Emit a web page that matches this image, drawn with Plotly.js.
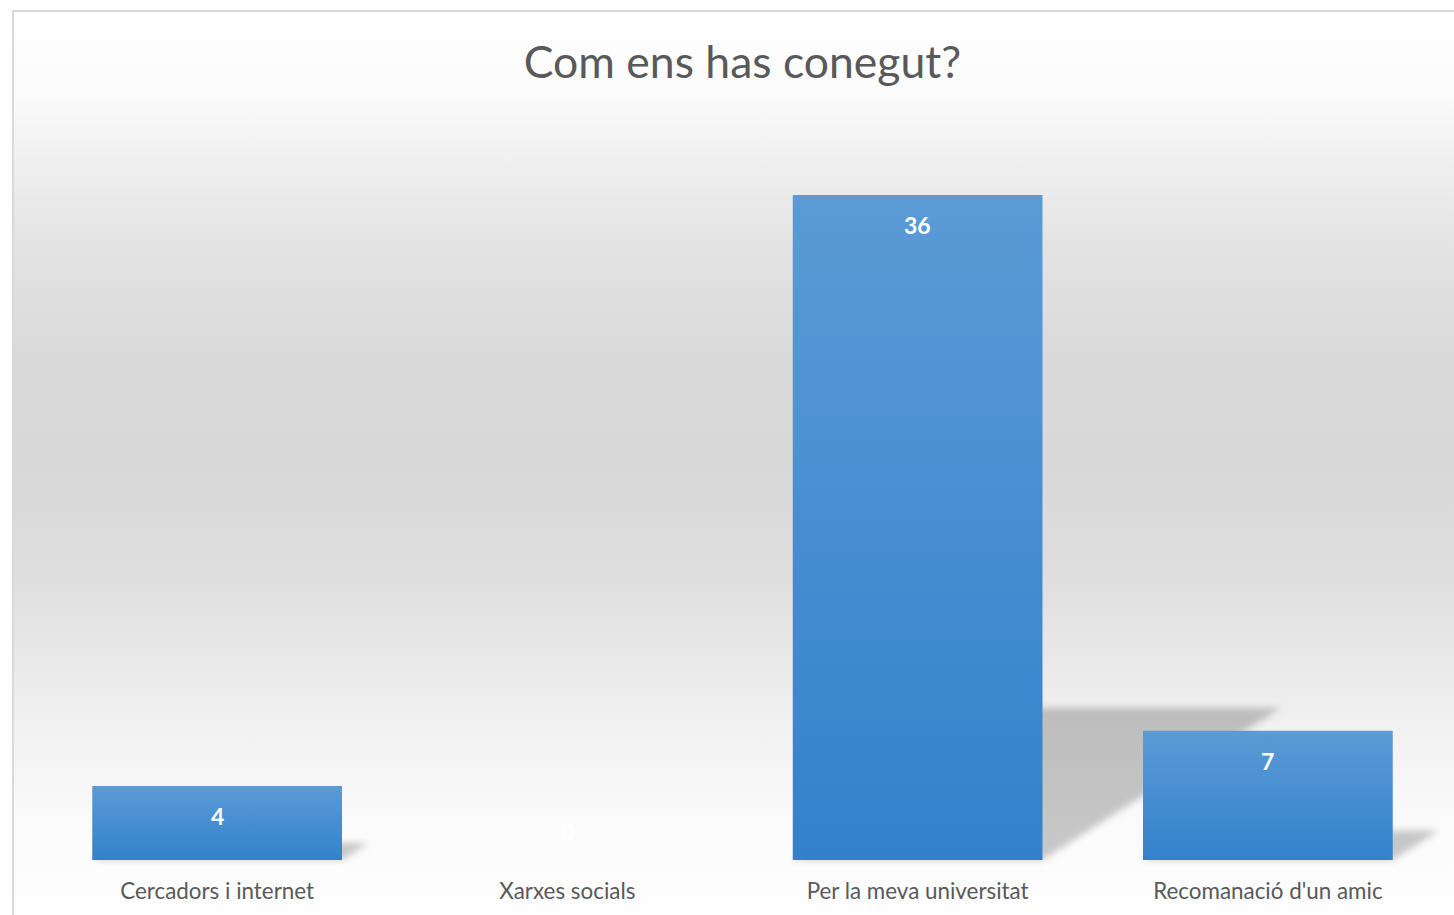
<!DOCTYPE html>
<html>
<head>
<meta charset="utf-8">
<script src="https://cdn.plot.ly/plotly-3.0.1.min.js"></script>
<style>
  html, body { margin:0; padding:0; background:#ffffff; width:1454px; height:915px; overflow:hidden; }
  #frame {
    position:absolute; left:12px; top:10px; width:1440px; height:903px;
    border-left:2px solid #d9d9d9; border-top:2px solid #d9d9d9;
    background: linear-gradient(to bottom, #ffffff 0%, #fbfbfb 9%, #f2f2f2 15%, #e4e4e4 25%, #dadada 38%, #d8d8d8 50%, #dedede 62%, #e9e9e9 72%, #f4f4f4 82%, #fbfbfb 90%, #fefefe 100%);
  }
  #chart { width:1440px; height:903px; }
</style>
</head>
<body>
<div id="frame"><div id="chart"></div></div>
<script>
const categories = ["Cercadors i internet", "Xarxes socials", "Per la meva universitat", "Recomanació d'un amic"];
const values = [4, 0, 36, 7];
const chartTitle = "Com ens has conegut?";

const idx = categories.map((c, i) => i);
const barWidth = 0.713;
const shadowH = 0.2286;   // shadow height as fraction of value
const shadowS = 0.0189;   // horizontal skew per unit of value (category units)

const shapes = values.map((v, i) => {
  if (v <= 0) return null;
  const x0 = i - barWidth / 2, x1 = i + barWidth / 2;
  const h = v * shadowH, s = v * shadowS;
  return {
    type: 'path', xref: 'x', yref: 'y', layer: 'below',
    path: `M ${x0},0 L ${x1},0 L ${x1 + s},${h} L ${x0 + s},${h} Z`,
    fillcolor: 'rgba(0,0,0,0.21)', line: { width: 0 }
  };
}).filter(Boolean);

const annotations = values.map((v, i) => ({
  x: i, y: v, xref: 'x', yref: 'y', text: '<b>' + String(v) + '</b>', showarrow: false,
  yshift: v > 0 ? -30 : 28,
  font: { family: 'Lato, "Open Sans", sans-serif', size: 23, color: '#ffffff' }
}));

const trace = {
  type: 'bar', x: idx, y: values, width: barWidth,
  marker: { color: '#4a8fd2', line: { width: 0 } },
  hoverinfo: 'skip'
};

const layout = {
  width: 1440, height: 903,
  paper_bgcolor: 'rgba(0,0,0,0)', plot_bgcolor: 'rgba(0,0,0,0)',
  margin: { l: 28, r: 11, t: 109, b: 55 },
  title: {
    text: chartTitle, x: 0.5, xanchor: 'center', xref: 'paper',
    y: 1 - 50 / 903, yref: 'container', yanchor: 'middle',
    font: { family: 'Lato, "Open Sans", sans-serif', size: 44.5, color: '#595959' }
  },
  xaxis: {
    type: 'linear', range: [-0.5, 3.5], tickvals: idx, ticktext: categories,
    showgrid: false, zeroline: false, showline: false, ticks: '',
    ticklabelstandoff: 16,
    tickfont: { family: 'Lato, "Open Sans", sans-serif', size: 22.4, color: '#595959' },
    fixedrange: true
  },
  yaxis: { range: [0, 40], visible: false, showgrid: false, zeroline: false, fixedrange: true },
  shapes: shapes,
  annotations: annotations,
  showlegend: false
};

Plotly.newPlot('chart', [trace], layout, { displayModeBar: false, staticPlot: true }).then(gd => {
  const svg = gd.querySelector('svg.main-svg');
  const NS = 'http://www.w3.org/2000/svg';
  let defs = svg.querySelector('defs');
  if (!defs) { defs = document.createElementNS(NS, 'defs'); svg.insertBefore(defs, svg.firstChild); }
  const grad = document.createElementNS(NS, 'linearGradient');
  grad.setAttribute('id', 'barGrad');
  grad.setAttribute('x1', '0'); grad.setAttribute('y1', '0');
  grad.setAttribute('x2', '0'); grad.setAttribute('y2', '1');
  [['0%', '#5b9bd6'], ['100%', '#3381cc']].forEach(([o, c]) => {
    const st = document.createElementNS(NS, 'stop');
    st.setAttribute('offset', o); st.setAttribute('stop-color', c);
    grad.appendChild(st);
  });
  defs.appendChild(grad);
  const filt = document.createElementNS(NS, 'filter');
  filt.setAttribute('id', 'shBlur');
  filt.setAttribute('x', '-30%'); filt.setAttribute('y', '-30%');
  filt.setAttribute('width', '160%'); filt.setAttribute('height', '160%');
  const gb = document.createElementNS(NS, 'feGaussianBlur');
  gb.setAttribute('stdDeviation', '3.5');
  filt.appendChild(gb);
  defs.appendChild(filt);
  gd.querySelectorAll('.barlayer .point path').forEach(p => { p.style.fill = 'url(#barGrad)'; });
  gd.querySelectorAll('.shapelayer path').forEach(p => {
    p.setAttribute('filter', 'url(#shBlur)');
    p.style.filter = 'url(#shBlur)';
    p.removeAttribute('clip-path');
    if (p.parentNode) p.parentNode.removeAttribute('clip-path');
  });
});
</script>
</body>
</html>
